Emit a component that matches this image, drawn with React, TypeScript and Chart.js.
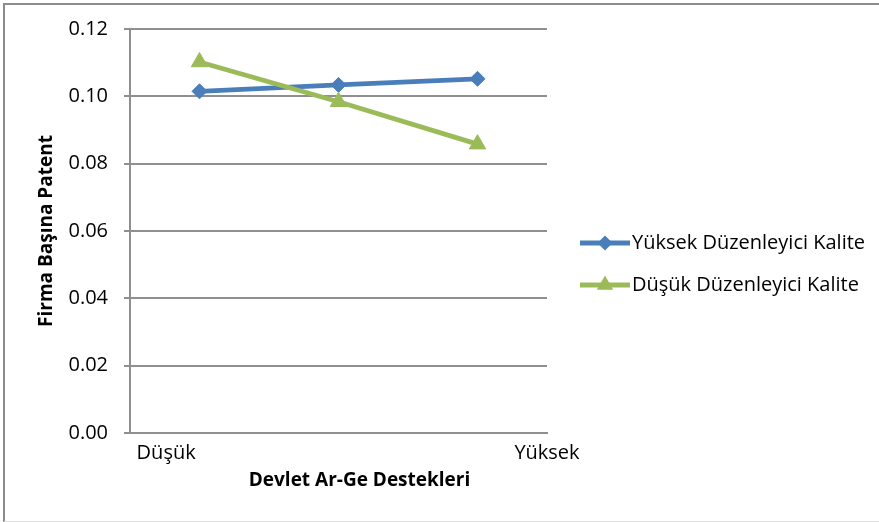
import React, { useEffect, useRef } from 'react';
import { Chart, registerables } from 'chart.js';

Chart.register(...registerables);

// ---- data ----
const seriesNames = ['Yüksek Düzenleyici Kalite', 'Düşük Düzenleyici Kalite'];
const categoryLevels = ['Düşük', 'Orta', 'Yüksek'];
const highQualityValues = [0.1015, 0.1034, 0.1052];
const lowQualityValues = [0.1102, 0.0984, 0.0858];
const yTickValues = [0, 0.02, 0.04, 0.06, 0.08, 0.1, 0.12];
const xTickLabels = ['Düşük', 'Yüksek'];
const xTickValues = [0.26, 3];
const xTitle = 'Devlet Ar-Ge Destekleri';
const yTitle = 'Firma Başına Patent';

const BLUE = '#4a7ebb';
const GREEN = '#9bbb59';
const GRID = '#8f8f8f';
const FONT = '"Open Sans", sans-serif';

function makeLegendImage(color: string, style: string) {
  const c = document.createElement('canvas');
  c.width = 69;
  c.height = 22;
  const g = c.getContext('2d')!;
  g.strokeStyle = color;
  g.lineWidth = 4.8;
  g.beginPath();
  g.moveTo(19, 11);
  g.lineTo(69, 11);
  g.stroke();
  g.fillStyle = color;
  g.beginPath();
  const cx = 44;
  const cy = 11;
  if (style === 'rectRot') {
    const r = 7.5;
    g.moveTo(cx - r, cy);
    g.lineTo(cx, cy - r);
    g.lineTo(cx + r, cy);
    g.lineTo(cx, cy + r);
  } else {
    const r = 9.5;
    g.moveTo(cx, cy - r);
    g.lineTo(cx + r * Math.sin((2 * Math.PI) / 3), cy + r / 2);
    g.lineTo(cx - r * Math.sin((2 * Math.PI) / 3), cy + r / 2);
  }
  g.closePath();
  g.fill();
  return c;
}

const xTitlePlugin = {
  id: 'xTitleText',
  afterDraw(chart: any) {
    const { ctx, chartArea } = chart;
    const xs = chart.scales.x;
    ctx.save();
    ctx.font = `bold 19px ${FONT}`;
    ctx.fillStyle = '#000000';
    ctx.textAlign = 'center';
    ctx.textBaseline = 'middle';
    ctx.fillText(xTitle, (chartArea.left + chartArea.right) / 2 + 21, xs.bottom - 18);
    ctx.restore();
  },
};

export default function App() {
  const canvasRef = useRef<HTMLCanvasElement | null>(null);

  useEffect(() => {
    const canvas = canvasRef.current;
    if (!canvas) return;

    const meas = document.createElement('canvas').getContext('2d')!;
    meas.font = `20px ${FONT}`;
    const textW = Math.max(...seriesNames.map((s) => meas.measureText(s).width));
    const legendPadding = 22;
    const boxW = 53;
    const legendW = legendPadding + boxW + 10 + textW + 10;
    const padRight = Math.max(0, 332 - legendW);

    const styles = ['rectRot', 'triangle'];
    const colors = [BLUE, GREEN];
    const images = styles.map((s, i) => makeLegendImage(colors[i], s));

    const toPoints = (vals: number[]) =>
      vals.map((v, i) => ({ x: i + 0.5, y: v, level: categoryLevels[i] }));

    const chart = new Chart(canvas, {
      type: 'line',
      data: {
        datasets: [
          {
            label: seriesNames[0],
            data: toPoints(highQualityValues),
            borderColor: BLUE,
            backgroundColor: BLUE,
            borderWidth: 4.8,
            pointStyle: 'rectRot',
            pointRadius: 7.5,
            pointHoverRadius: 7.5,
            pointBorderWidth: 1,
            pointBackgroundColor: BLUE,
            pointBorderColor: BLUE,
            tension: 0,
            order: 1,
          },
          {
            label: seriesNames[1],
            data: toPoints(lowQualityValues),
            borderColor: GREEN,
            backgroundColor: GREEN,
            borderWidth: 4.8,
            pointStyle: 'triangle',
            pointRadius: 9.5,
            pointHoverRadius: 9.5,
            pointBorderWidth: 1,
            pointBackgroundColor: GREEN,
            pointBorderColor: GREEN,
            tension: 0,
            order: 0,
          },
        ],
      },
      options: {
        responsive: false,
        animation: false,
        devicePixelRatio: 1,
        layout: { padding: { left: 0, top: 29, right: padRight, bottom: 23 } },
        plugins: {
          tooltip: { enabled: false },
          title: { display: false },
          legend: {
            display: true,
            position: 'right',
            align: 'center',
            maxWidth: 500,
            labels: {
              usePointStyle: true,
              pointStyleWidth: boxW,
              padding: legendPadding,
              color: '#000000',
              font: { family: FONT, size: 20 },
              generateLabels: (ch: any) =>
                ch.data.datasets.map((ds: any, i: number) => ({
                  text: ds.label,
                  pointStyle: images[i],
                  fillStyle: colors[i],
                  strokeStyle: colors[i],
                  lineWidth: 0,
                  datasetIndex: i,
                  hidden: false,
                  fontColor: '#000000',
                })),
            },
          },
        },
        scales: {
          x: {
            type: 'linear',
            position: 'bottom',
            min: 0,
            max: 3,
            grid: { display: false, drawTicks: false, tickLength: 0 },
            border: { display: true, color: GRID, width: 2 },
            ticks: {
              color: '#000000',
              font: { family: FONT, size: 20 },
              padding: 8,
              maxRotation: 0,
              autoSkip: false,
              callback: (_v: any, i: number) => xTickLabels[i],
            },
            afterBuildTicks: (s: any) => {
              s.ticks = xTickValues.map((v) => ({ value: v }));
            },
            afterFit: (s: any) => {
              s.height = 66;
            },
          },
          y: {
            type: 'linear',
            position: 'left',
            min: 0,
            max: 0.12,
            grid: { color: GRID, lineWidth: 2, drawTicks: true, tickLength: 6 },
            border: { display: true, color: GRID, width: 2 },
            ticks: {
              color: '#000000',
              font: { family: FONT, size: 20 },
              padding: 16,
              callback: (v: any) => Number(v).toFixed(2),
            },
            afterBuildTicks: (s: any) => {
              s.ticks = yTickValues.map((v) => ({ value: v }));
            },
            title: {
              display: true,
              text: yTitle,
              color: '#000000',
              font: { family: FONT, size: 19, weight: 'bold' },
              padding: { top: 35.6, bottom: 0 },
            },
            afterFit: (s: any) => {
              s.width = 130;
            },
          },
        },
      },
      plugins: [xTitlePlugin],
    });

    return () => chart.destroy();
  }, []);

  return (
    <div style={{ position: 'absolute', left: 0, top: 0, width: 879, height: 522, background: '#ffffff' }}>
      <canvas
        ref={canvasRef}
        width={879}
        height={522}
        style={{ position: 'absolute', left: 0, top: 0, width: 879, height: 522 }}
      />
      <div
        style={{
          position: 'absolute',
          left: 3,
          top: 3,
          width: 876,
          height: 519,
          boxSizing: 'border-box',
          borderTop: '2px solid #8c8c8c',
          borderLeft: '2px solid #8c8c8c',
          borderBottom: '1px solid #dcdcdc',
          pointerEvents: 'none',
        }}
      />
    </div>
  );
}
